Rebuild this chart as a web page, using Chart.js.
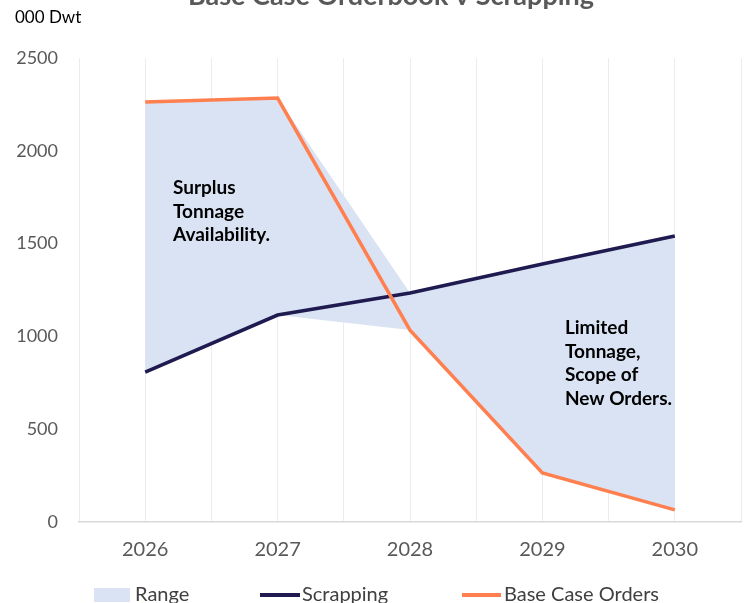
<!DOCTYPE html>
<html>
<head>
<meta charset="utf-8">
<script src="https://cdn.jsdelivr.net/npm/chart.js@4.4.1/dist/chart.umd.min.js"></script>
<style>
  html, body { margin: 0; padding: 0; background: #fff; overflow: hidden; }
  #wrap { position: relative; width: 757px; height: 603px; }
</style>
</head>
<body>
<div id="wrap"><canvas id="chart"></canvas></div>
<script>
// values (000 Dwt)
const years = [2026, 2027, 2028, 2029, 2030];
const scrapping = [808, 1115, 1234, 1390, 1541];
const baseCaseOrders = [2263, 2284, 1034, 264, 65];
const yTicks = [0, 500, 1000, 1500, 2000, 2500];

// range band = gap between the two series
const rangeHigh = years.map((y, i) => Math.max(scrapping[i], baseCaseOrders[i]));
const rangeLow = years.map((y, i) => Math.min(scrapping[i], baseCaseOrders[i]));

const toPts = arr => years.map((y, i) => ({ x: y, y: arr[i] }));

const FONT = "Lato, 'Open Sans', sans-serif";
const RANGE_COL = "#dae3f3";
const SCRAP_COL = "#1f1a4f";
const ORDER_COL = "#ff7f4f";

// title (clipped at top), unit label, text notes and the legend row (clipped at bottom)
const extras = {
  id: "extras",
  afterDraw(chart) {
    const { ctx, scales } = chart;
    const xs = scales.x, ys = scales.y;
    ctx.save();
    ctx.fillStyle = "#595959";
    ctx.font = "bold 27px " + FONT;
    ctx.textAlign = "center";
    ctx.textBaseline = "alphabetic";
    ctx.fillText("Base Case Orderbook v Scrapping", 391, 5);

    ctx.fillStyle = "#000";
    ctx.font = "17px " + FONT;
    ctx.textAlign = "left";
    ctx.textBaseline = "middle";
    ctx.fillText("000 Dwt", 15, 18);

    ctx.font = "bold 19px " + FONT;
    const note = (lines, xv, yv) => {
      const x = xs.getPixelForValue(xv);
      let y = ys.getPixelForValue(yv);
      lines.forEach(t => { ctx.fillText(t, x, y); y += 23.6; });
    };
    note(["Surplus", "Tonnage", "Availability."], 2026.21, 1800);
    note(["Limited", "Tonnage,", "Scope of", "New Orders."], 2029.17, 1045);

    // legend
    const ly = 595;
    ctx.font = "20px " + FONT;
    ctx.fillStyle = RANGE_COL;
    ctx.fillRect(94, ly - 7, 36, 14);
    ctx.lineWidth = 4;
    ctx.strokeStyle = SCRAP_COL;
    ctx.beginPath(); ctx.moveTo(260, ly); ctx.lineTo(300, ly); ctx.stroke();
    ctx.strokeStyle = ORDER_COL;
    ctx.beginPath(); ctx.moveTo(462, ly); ctx.lineTo(501, ly); ctx.stroke();
    ctx.fillStyle = "#404040";
    ctx.fillText("Range", 135, ly);
    ctx.fillText("Scrapping", 302, ly);
    ctx.fillText("Base Case Orders", 504, ly);
    ctx.restore();
  }
};

new Chart(document.getElementById("chart"), {
  type: "line",
  data: {
    datasets: [
      {
        label: "Base Case Orders",
        data: toPts(baseCaseOrders),
        borderColor: ORDER_COL,
        backgroundColor: ORDER_COL,
        borderWidth: 3.5,
        pointRadius: 0,
        tension: 0,
        fill: false
      },
      {
        label: "Scrapping",
        data: toPts(scrapping),
        borderColor: SCRAP_COL,
        backgroundColor: SCRAP_COL,
        borderWidth: 3.5,
        pointRadius: 0,
        tension: 0,
        fill: false
      },
      {
        label: "Range",
        data: toPts(rangeHigh),
        borderWidth: 0,
        borderColor: "rgba(0,0,0,0)",
        backgroundColor: RANGE_COL,
        pointRadius: 0,
        fill: "+1"
      },
      {
        label: "rangeLow",
        data: toPts(rangeLow),
        borderWidth: 0,
        borderColor: "rgba(0,0,0,0)",
        backgroundColor: RANGE_COL,
        pointRadius: 0,
        fill: false
      }
    ]
  },
  options: {
    responsive: true,
    maintainAspectRatio: false,
    animation: false,
    layout: { padding: { top: 58, right: 0, left: 0, bottom: 33 } },
    scales: {
      x: {
        type: "linear",
        min: 2025.5,
        max: 2030.5,
        afterBuildTicks: s => { s.ticks = []; for (let v = 2025.5; v <= 2030.5; v += 0.5) s.ticks.push({ value: v }); },
        ticks: {
          autoSkip: false,
          maxRotation: 0,
          padding: 16,
          color: "#595959",
          font: { family: FONT, size: 20 },
          callback: v => Number.isInteger(v) ? String(v) : ""
        },
        grid: { color: "#ececec", lineWidth: 1, drawTicks: false },
        border: { color: "#d9d9d9", width: 1.5 },
        afterFit: s => { s.height = 48; }
      },
      y: {
        min: 0,
        max: 2500,
        afterBuildTicks: s => { s.ticks = yTicks.map(v => ({ value: v })); },
        ticks: {
          padding: 21,
          color: "#595959",
          font: { family: FONT, size: 18 },
          callback: v => String(v)
        },
        grid: { display: false, drawTicks: false },
        border: { display: false },
        afterFit: s => { s.width = 79; }
      }
    },
    plugins: {
      title: { display: false },
      tooltip: { enabled: false },
      legend: { display: false }
    }
  },
  plugins: [extras]
});
</script>
</body>
</html>
